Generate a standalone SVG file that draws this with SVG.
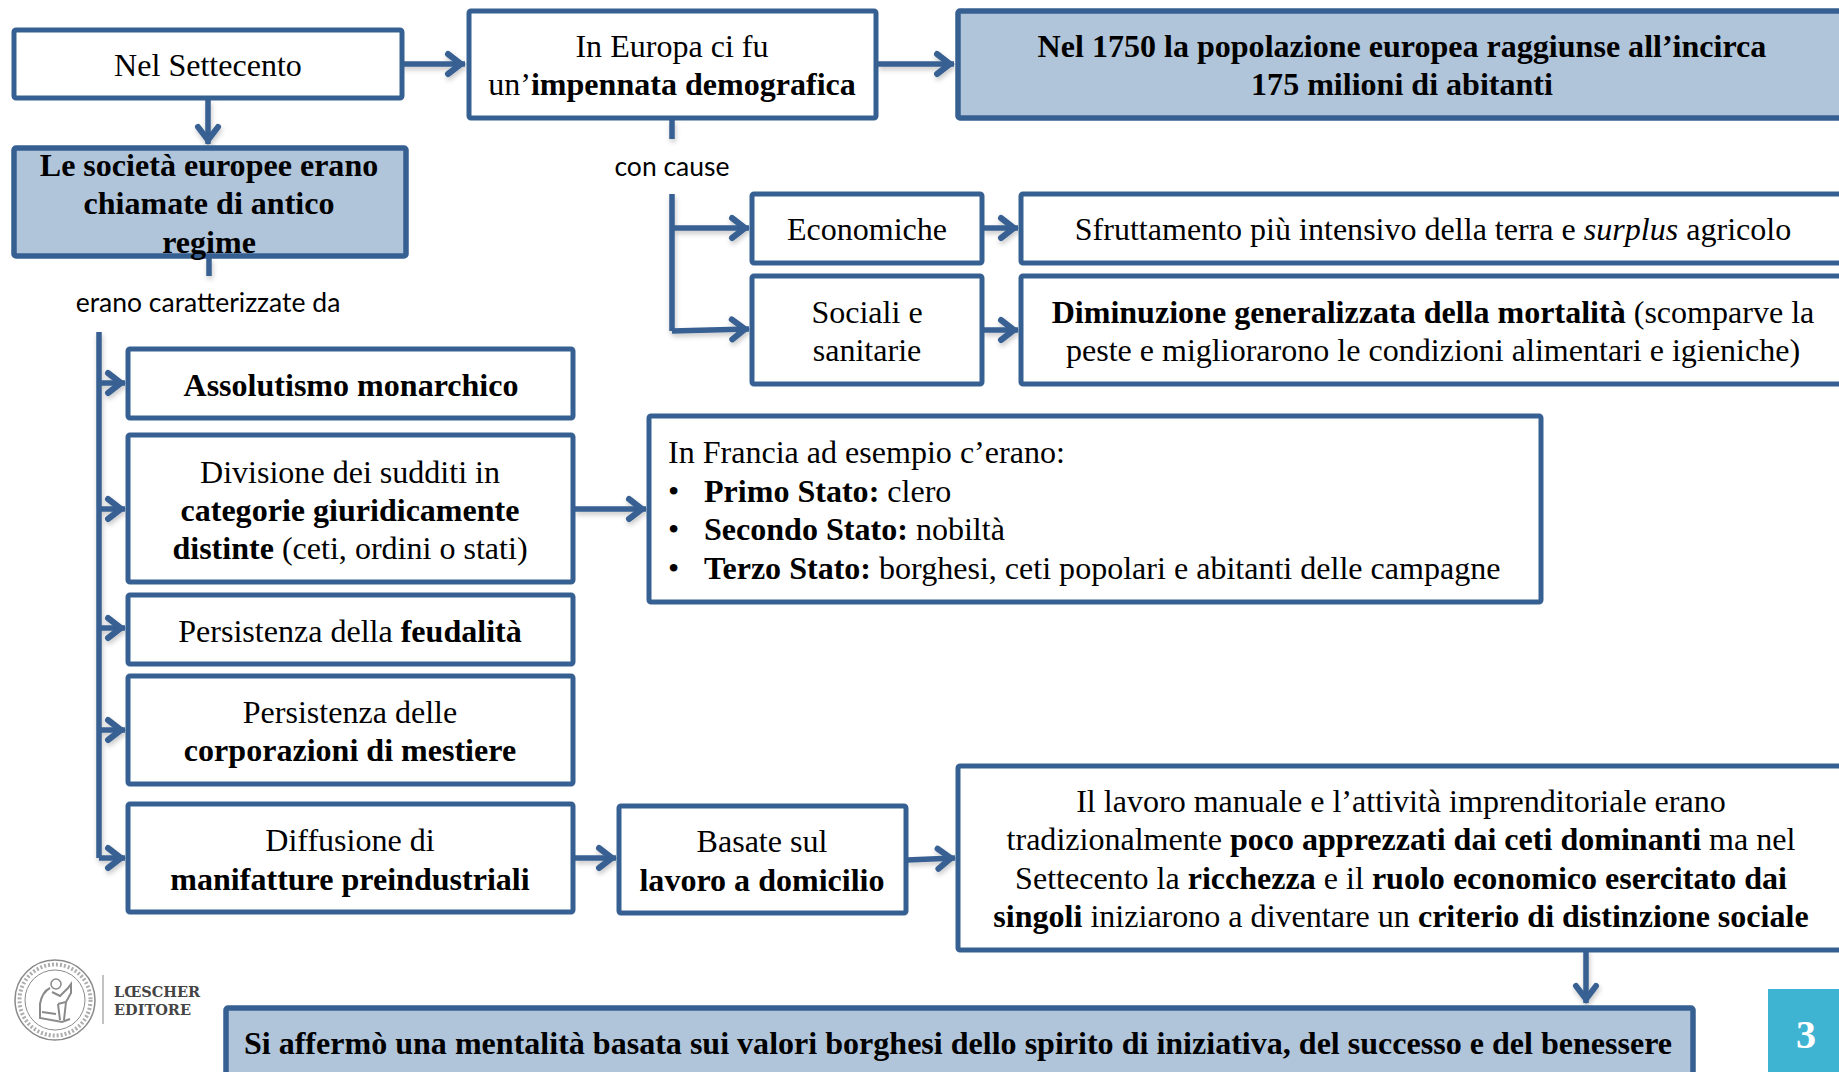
<svg xmlns="http://www.w3.org/2000/svg" width="1839" height="1072" viewBox="0 0 1839 1072">
<style>
.b{fill:#fff;stroke:#376092;stroke-width:5;stroke-linejoin:round}
.f{fill:#b1c5da;stroke:#376092;stroke-width:5.5;stroke-linejoin:round}
text{font-family:"Liberation Serif","Times New Roman",serif;font-size:32.05px;fill:#000}
.c{text-anchor:middle}
.t{font-weight:bold}
tspan.t{font-weight:bold}
.l{font-family:Lato,"Open Sans",sans-serif;font-size:26.5px;text-anchor:middle}
.k{fill:none;stroke:#376092;stroke-width:5.5}
.s{stroke:#8a8a8a;fill:none}
</style>
<defs>
<marker id="a" markerUnits="userSpaceOnUse" markerWidth="26" markerHeight="30" refX="22" refY="15" orient="auto" overflow="visible">
<path d="M5 5L18 15L5 25" fill="none" stroke="#376092" stroke-width="6" stroke-linecap="round" stroke-linejoin="miter"/>
</marker>
<filter id="sh" x="-20%" y="-20%" width="140%" height="140%"><feDropShadow dx="1" dy="3" stdDeviation="2.5" flood-color="#000" flood-opacity="0.22"/></filter>
<filter id="bl"><feGaussianBlur stdDeviation="0.5"/></filter>
</defs>
<rect width="1839" height="1072" fill="#fff"/>
<g id="connectors" class="k" filter="url(#sh)">
<path d="M402 64H465" marker-end="url(#a)"/>
<path d="M208 100V144" marker-end="url(#a)"/>
<path d="M878 64H954" marker-end="url(#a)"/>
<path d="M672 120V139"/>
<path d="M672 194V331"/>
<path d="M672 228H749" marker-end="url(#a)"/>
<path d="M672 331L749 329" marker-end="url(#a)"/>
<path d="M209 258V276"/>
<path d="M99 332V858"/>
<path d="M99 383H125" marker-end="url(#a)"/>
<path d="M99 509H125" marker-end="url(#a)"/>
<path d="M99 628H125" marker-end="url(#a)"/>
<path d="M99 730H125" marker-end="url(#a)"/>
<path d="M99 858H125" marker-end="url(#a)"/>
<path d="M983 228H1018" marker-end="url(#a)"/>
<path d="M983 330H1018" marker-end="url(#a)"/>
<path d="M575 509H646" marker-end="url(#a)"/>
<path d="M575 858H616" marker-end="url(#a)"/>
<path d="M907 860L955 858" marker-end="url(#a)"/>
<path d="M1586 950V1003" marker-end="url(#a)"/>
</g>
<g id="n-settecento"><rect class="b" x="14" y="30" width="388" height="68" rx="2"/><text class="c" x="208" y="76">Nel Settecento</text></g>
<g id="n-europa"><rect class="b" x="469" y="11" width="407" height="107" rx="2"/><text class="c" x="672" y="57">In Europa ci fu</text><text class="c" x="672" y="95">un’<tspan class="t">impennata demografica</tspan></text></g>
<g id="n-1750"><rect class="f" x="958" y="11" width="900" height="107" rx="2"/><text class="c t" x="1402" y="57">Nel 1750 la popolazione europea raggiunse all’incirca</text><text class="c t" x="1402" y="95">175 milioni di abitanti</text></g>
<g id="n-societa"><rect class="f" x="14" y="148" width="392" height="108" rx="2"/><text class="c t" x="209" y="176">Le società europee erano</text><text class="c t" x="209" y="214">chiamate di antico</text><text class="c t" x="209" y="253">regime</text></g>
<text class="l" x="672" y="176">con cause</text>
<text class="l" x="208" y="312">erano caratterizzate da</text>
<g id="n-economiche"><rect class="b" x="752" y="194" width="230" height="69" rx="2"/><text class="c" x="867" y="240">Economiche</text></g>
<g id="n-sfruttamento"><rect class="b" x="1021" y="194" width="840" height="69" rx="2"/><text class="c" x="1433" y="240">Sfruttamento più intensivo della terra e <tspan font-style="italic">surplus</tspan> agricolo</text></g>
<g id="n-sociali"><rect class="b" x="752" y="276" width="230" height="108" rx="2"/><text class="c" x="867" y="323">Sociali e</text><text class="c" x="867" y="361">sanitarie</text></g>
<g id="n-diminuzione"><rect class="b" x="1021" y="276" width="840" height="108" rx="2"/><text class="c" x="1433" y="323"><tspan class="t">Diminuzione generalizzata della mortalità</tspan> (scomparve la</text><text class="c" x="1433" y="361">peste e migliorarono le condizioni alimentari e igieniche)</text></g>
<g id="n-assolutismo"><rect class="b" x="128" y="349" width="445" height="69" rx="2"/><text class="c t" x="351" y="396">Assolutismo monarchico</text></g>
<g id="n-divisione"><rect class="b" x="128" y="435" width="445" height="147" rx="2"/><text class="c" x="350" y="483">Divisione dei sudditi in</text><text class="c t" x="350" y="521">categorie giuridicamente</text><text class="c" x="350" y="559"><tspan class="t">distinte</tspan> (ceti, ordini o stati)</text></g>
<g id="n-feudalita"><rect class="b" x="128" y="595" width="445" height="69" rx="2"/><text class="c" x="350" y="642">Persistenza della <tspan class="t">feudalità</tspan></text></g>
<g id="n-corporazioni"><rect class="b" x="128" y="676" width="445" height="108" rx="2"/><text class="c" x="350" y="723">Persistenza delle</text><text class="c t" x="350" y="761">corporazioni di mestiere</text></g>
<g id="n-diffusione"><rect class="b" x="128" y="804" width="445" height="108" rx="2"/><text class="c" x="350" y="851">Diffusione di</text><text class="c t" x="350" y="890">manifatture preindustriali</text></g>
<g id="n-francia"><rect class="b" x="649" y="416" width="892" height="186" rx="2"/><text x="668" y="463">In Francia ad esempio c’erano:</text><text x="668" y="502">•</text><text x="704" y="502"><tspan class="t">Primo Stato:</tspan> clero</text><text x="668" y="540">•</text><text x="704" y="540"><tspan class="t">Secondo Stato:</tspan> nobiltà</text><text x="668" y="579">•</text><text x="704" y="579"><tspan class="t">Terzo Stato:</tspan> borghesi, ceti popolari e abitanti delle campagne</text></g>
<g id="n-basate"><rect class="b" x="619" y="806" width="287" height="107" rx="2"/><text class="c" x="762" y="852">Basate sul</text><text class="c t" x="762" y="891">lavoro a domicilio</text></g>
<g id="n-lavoro"><rect class="b" x="958" y="766" width="900" height="184" rx="2"/><text class="c" x="1401" y="812">Il lavoro manuale e l’attività imprenditoriale erano</text><text class="c" x="1401" y="850">tradizionalmente <tspan class="t">poco apprezzati dai ceti dominanti</tspan> ma nel</text><text class="c" x="1401" y="889">Settecento la <tspan class="t">ricchezza</tspan> e il <tspan class="t">ruolo economico esercitato dai</tspan></text><text class="c" x="1401" y="927"><tspan class="t">singoli</tspan> iniziarono a diventare un <tspan class="t">criterio di distinzione sociale</tspan></text></g>
<g id="n-mentalita"><rect class="f" x="226" y="1008" width="1467" height="80" rx="2"/><text class="c t" x="958" y="1054">Si affermò una mentalità basata sui valori borghesi dello spirito di iniziativa, del successo e del benessere</text></g>
<g id="logo">
<g filter="url(#bl)">
<circle class="s" cx="55" cy="1000" r="40" stroke-width="1.5"/>
<circle class="s" cx="55" cy="1000" r="35.5" stroke-width="4" stroke-dasharray="2 2" opacity=".7"/>
<circle class="s" cx="55" cy="1000" r="30" stroke-width="1"/>
<circle class="s" cx="56" cy="984" r="5" stroke-width="1.5"/>
<path d="M50 988Q42 992 40 1004L40 1018L62 1022L70 1019M52 992L60 996L68 988L71 984L71 993L66 1002L58 1004M58 1004L60 1020M66 1002L64 1020M42 1012L56 1014" fill="none" stroke="#8a8a8a" stroke-width="2"/>
</g>
<path d="M103 975V1024" stroke="#999" stroke-width="1.2"/>
<text x="114" y="997" style="font-family:'DejaVu Serif',serif;font-weight:bold;font-size:14.5px;fill:#444">LŒSCHER</text>
<text x="114" y="1015" style="font-family:'DejaVu Serif',serif;font-weight:bold;font-size:14.5px;fill:#444">EDITORE</text>
</g>
<g id="page"><rect x="1768" y="989" width="71" height="83" fill="#3fb4d2"/><text class="c t" x="1806" y="1048" style="fill:#fff;font-size:40px">3</text></g>
</svg>
